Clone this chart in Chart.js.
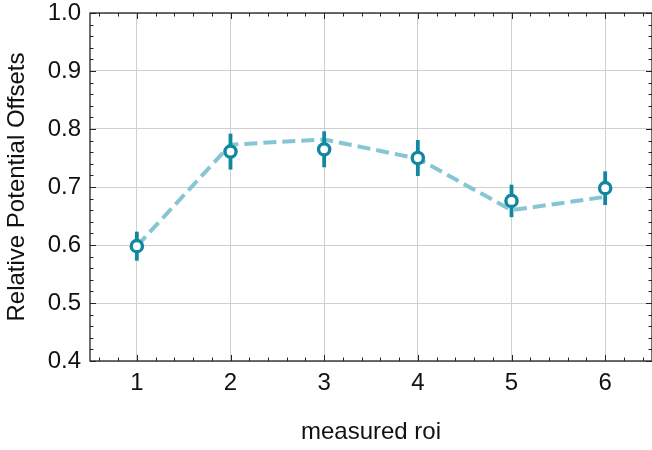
<!DOCTYPE html>
<html>
<head>
<meta charset="utf-8">
<script src="https://cdn.jsdelivr.net/npm/chart.js@4/dist/chart.umd.min.js"></script>
<style>
  html, body { margin: 0; padding: 0; background: #fff; }
</style>
</head>
<body>
<canvas id="chart" width="652" height="450"></canvas>
<script>
// measured offsets per roi, with their uncertainty, and the fitted curve
const rois = [1, 2, 3, 4, 5, 6];
const offsets = [0.598, 0.761, 0.765, 0.750, 0.676, 0.698];
const offsetErr = [0.025, 0.031, 0.031, 0.031, 0.028, 0.029];
const fitOffsets = [0.598, 0.773, 0.782, 0.749, 0.660, 0.683];

const xTicks = [1, 2, 3, 4, 5, 6];
const yTicks = [0.4, 0.5, 0.6, 0.7, 0.8, 0.9, 1.0];

const markColor = '#11889f';
const fitColor = '#86c5d3';
const FONT = 'Liberation Sans, Arial, sans-serif';

// vertical error bars, drawn just before the markers so the white fill covers them
const errorBars = {
  id: 'errorBars',
  beforeDatasetDraw(chart, args) {
    if (args.index !== 0) return;
    const { ctx, scales: { x, y } } = chart;
    ctx.save();
    ctx.strokeStyle = markColor;
    ctx.lineWidth = 3.8;
    rois.forEach((r, i) => {
      const px = x.getPixelForValue(r);
      ctx.beginPath();
      ctx.moveTo(px, y.getPixelForValue(offsets[i] - offsetErr[i]));
      ctx.lineTo(px, y.getPixelForValue(offsets[i] + offsetErr[i]));
      ctx.stroke();
    });
    ctx.restore();
  }
};

// box around the plot with inward major/minor ticks on all four sides
const frame = {
  id: 'frame',
  beforeDatasetsDraw(chart) {
    const { ctx, chartArea: a, scales: { x, y } } = chart;
    ctx.save();
    ctx.strokeStyle = '#222';
    ctx.lineWidth = 1.3;
    ctx.strokeRect(a.left, a.top, a.right - a.left, a.bottom - a.top);
    ctx.lineWidth = 1;
    const seg = (x0, y0, x1, y1) => {
      ctx.beginPath(); ctx.moveTo(x0, y0); ctx.lineTo(x1, y1); ctx.stroke();
    };
    for (let k = 3; k <= 32; k++) {
      const px = Math.round(x.getPixelForValue(k / 5)) + 0.5;
      const len = k % 5 === 0 ? 6 : 3.5;
      seg(px, a.bottom, px, a.bottom - len);
      seg(px, a.top, px, a.top + len);
    }
    for (let k = 20; k <= 50; k++) {
      const py = Math.round(y.getPixelForValue(k / 50)) + 0.5;
      const len = k % 5 === 0 ? 6 : 3.5;
      seg(a.left, py, a.left + len, py);
      seg(a.right, py, a.right - len, py);
    }
    ctx.restore();
  }
};

// the gap between axis and labels comes from invisible tick marks, so the
// scales do not reserve extra room for label padding at the plot edges
const hiddenTicks = { color: '#cfcfcf', lineWidth: 1, drawTicks: true, tickColor: 'rgba(0,0,0,0)' };

new Chart(document.getElementById('chart'), {
  type: 'line',
  data: {
    datasets: [
      {
        label: 'measured',
        data: rois.map((r, i) => ({ x: r, y: offsets[i] })),
        showLine: false,
        pointRadius: 5.6,
        pointBorderWidth: 3.4,
        pointBackgroundColor: '#fff',
        pointBorderColor: markColor,
        order: 0
      },
      {
        label: 'fit',
        data: rois.map((r, i) => ({ x: r, y: fitOffsets[i] })),
        borderColor: fitColor,
        borderWidth: 4,
        borderDash: [13, 6],
        pointRadius: 0,
        tension: 0,
        order: 1
      }
    ]
  },
  options: {
    responsive: false,
    devicePixelRatio: 1,
    animation: false,
    layout: { autoPadding: false, padding: { top: 13, right: -2, left: 0, bottom: 0 } },
    plugins: { legend: { display: false }, tooltip: { enabled: false } },
    scales: {
      x: {
        type: 'linear',
        min: 0.5,
        max: 6.5,
        afterFit: s => { s.height = 89; s.paddingLeft = 0; s.paddingRight = 0; },
        afterBuildTicks: s => { s.ticks = xTicks.map(v => ({ value: v })); },
        ticks: {
          padding: 0,
          color: '#111',
          font: { family: FONT, size: 24, lineHeight: 1.1 },
          callback: v => String(v)
        },
        grid: { ...hiddenTicks, tickLength: 9 },
        border: { display: false },
        title: {
          display: true,
          text: 'measured roi',
          color: '#111',
          font: { family: FONT, size: 24 },
          padding: { top: 0, bottom: 3.6 }
        }
      },
      y: {
        min: 0.4,
        max: 1.0,
        afterFit: s => { s.width = 90; },
        afterBuildTicks: s => { s.ticks = yTicks.map(v => ({ value: v })); },
        ticks: {
          padding: 0,
          color: '#111',
          font: { family: FONT, size: 24, lineHeight: 1.0 },
          callback: v => v.toFixed(1)
        },
        grid: { ...hiddenTicks, tickLength: 9 },
        border: { display: false },
        title: {
          display: true,
          text: 'Relative Potential Offsets',
          color: '#111',
          font: { family: FONT, size: 24 },
          padding: { top: 2.6, bottom: 0 }
        }
      }
    }
  },
  plugins: [frame, errorBars]
});
</script>
</body>
</html>
